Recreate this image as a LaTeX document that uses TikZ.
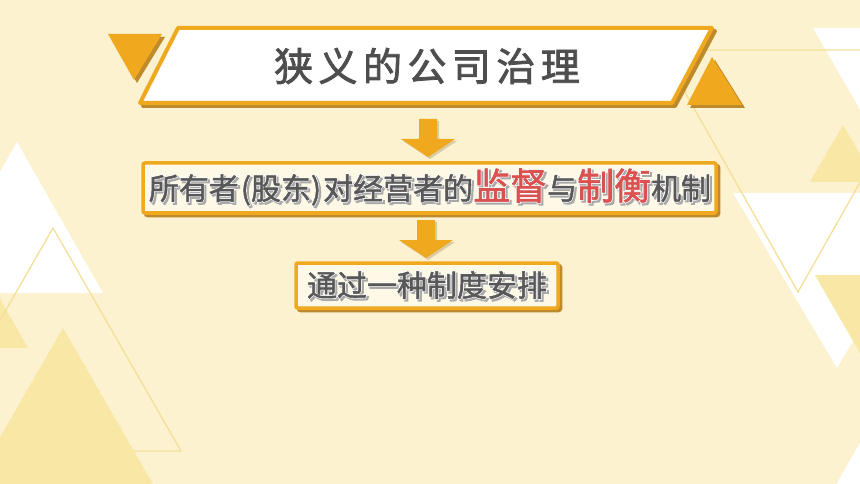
\documentclass[tikz,border=0pt]{standalone}
\usepackage{fontspec}
\usetikzlibrary{calc}
\newfontfamily\cjk[FakeBold=1.6]{Noto Sans CJK SC}
\newfontfamily\cjkT[LetterSpace=14,FakeBold=2]{Noto Sans CJK SC}
\newfontfamily\cjkH[FakeBold=6]{Noto Sans CJK SC}
\definecolor{bg}{HTML}{FCF2CF}
\definecolor{tri}{HTML}{F9E7A5}
\definecolor{triline}{HTML}{F5E09A}
\definecolor{org}{HTML}{F0A81E}
\definecolor{orgsh}{HTML}{BE8A2C}
\definecolor{arrsh}{HTML}{D9CBA2}
\definecolor{boxfill}{HTML}{FEF9E6}
\definecolor{txt}{HTML}{585858}
\definecolor{ttl}{HTML}{4E4E4E}
\definecolor{tsh}{HTML}{A9A9A9}
\definecolor{redt}{HTML}{DA5250}
\newcommand\mymc{}
\newcommand\myhl{}
\newcommand\layered[1]{%
 \makebox[0pt][l]{\raisebox{-2pt}{\hspace{2pt}\renewcommand\mymc{\color{tsh}}\renewcommand\myhl{\color{tsh}}\cjkH #1}}%
 \makebox[0pt][l]{\renewcommand\mymc{\color{white}}\renewcommand\myhl{\color{white}}\cjkH #1}%
 {\renewcommand\mymc{\color{txt}}\renewcommand\myhl{\color{redt}}\cjk #1}}
\tikzset{
 downarr/.pic={
  \fill[arrsh,shift={(2,2)}] (-9,0) -- (9,0) -- (9,20) -- (27,20) -- (0,38) -- (-27,20) -- (-9,20) -- cycle;
  \fill[org] (-9,0) -- (9,0) -- (9,20) -- (27,20) -- (0,38) -- (-27,20) -- (-9,20) -- cycle;
 },
 tribox/.style={fill=boxfill, draw=org, line width=3.5pt, rounded corners=2pt},
 triboxsh/.style={fill=orgsh, draw=orgsh, line width=3.5pt, rounded corners=2pt},
 bgline/.style={draw=triline, line width=1.3pt},
}
\begin{document}
\begin{tikzpicture}[x=1pt,y=-1pt]
\useasboundingbox (0,0) rectangle (860,484);
\begin{scope}
\clip (0,0) rectangle (860,484);
\fill[bg] (0,0) rectangle (860,484);
% left decorations
\fill[tri] (-5,290) -- (28,348) -- (-38,348) -- cycle;
\fill[white] (17,142) -- (103,293) -- (-69,293) -- cycle;
\draw[bgline] (53,228) -- (181,451) -- (-75,451) -- cycle;
\fill[tri] (63,328) -- (165,505) -- (-39,505) -- cycle;
% right decorations
\fill[white] (813,28) -- (920,28) -- (866,120) -- cycle;
\fill[tri] (843,125) -- (876,182) -- (810,182) -- cycle;
\fill[white] (733,193) -- (941,193) -- (837,368) -- cycle;
\fill[tri] (815,275) -- (960,275) -- (887,400) -- cycle;
\fill[white] (832,492) -- (866,432) -- (900,492) -- cycle;
\draw[bgline] (661,50) -- (935,50) -- (798,292) -- cycle;
\end{scope}
% title
\fill[orgsh] (111,37) -- (165,37) -- (137,83) -- cycle;
\fill[org] (108,34) -- (162,34) -- (134,80) -- cycle;
\fill[orgsh] (715,60) -- (745,108) -- (690,108) -- cycle;
\fill[org] (712,57) -- (742,105) -- (687,105) -- cycle;
\draw[orgsh, fill=orgsh, line width=4pt, line join=round] (181,31) -- (715,31) -- (675,106) -- (143,106) -- cycle;
\draw[org, fill=white, line width=4pt, line join=round] (178,28) -- (712,28) -- (672,103) -- (140,103) -- cycle;
\node[text=ttl, font=\cjkT\fontsize{39}{39}\selectfont, inner sep=0pt] (title) at (427,66) {狭义的公司治理};
% box 2
\draw[triboxsh] (145.5,165.5) rectangle (718.5,215.5);
\draw[tribox] (143,163) rectangle (716,213);
\node[font=\fontsize{30}{30}\selectfont, inner sep=0pt] (owner) at (430,188) {\layered{\mymc 所有者\kern2pt(股东)\kern2pt对经营者的{\myhl\fontsize{37}{37}\selectfont 监督}与{\myhl\fontsize{37}{37}\selectfont 制衡}机制}};
% box 3
\draw[triboxsh] (298.5,265.5) rectangle (560.5,310.5);
\draw[tribox] (296,263) rectangle (558,308);
\node[font=\fontsize{30}{30}\selectfont, inner sep=0pt] (inst) at (427,286) {\layered{\mymc 通过一种制度安排}};
% arrows
\pic at (428,119) {downarr};
\pic at (426,220) {downarr};
\end{tikzpicture}
\end{document}
